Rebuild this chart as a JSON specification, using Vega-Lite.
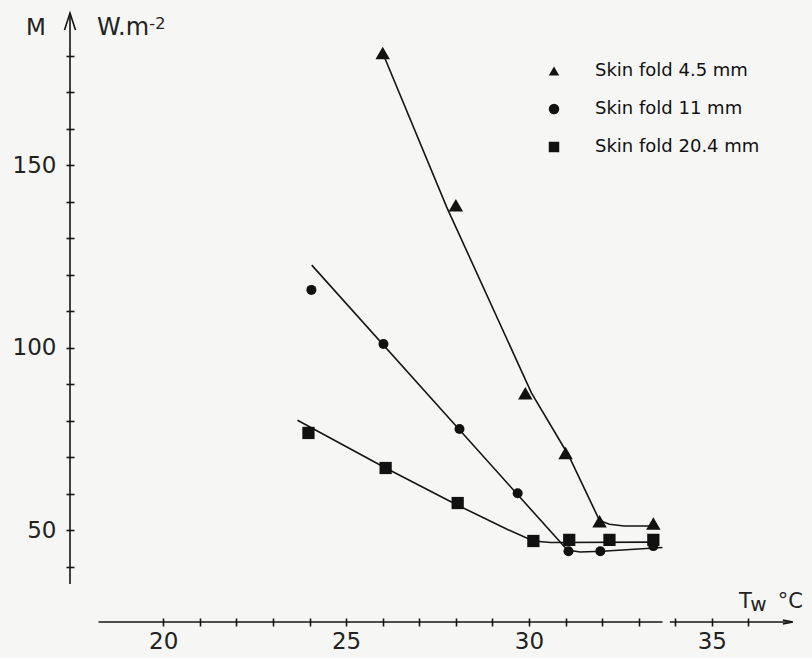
{
  "$schema": "https://vega.github.io/schema/vega-lite/v6.json",
  "width": 730,
  "height": 612,
  "autosize": {"type": "none"},
  "padding": {"left": 70, "top": 10, "right": 12, "bottom": 36},
  "background": "#f6f6f4",
  "config": {
    "view": {"stroke": null},
    "font": "DejaVu Sans",
    "legend": {"labelFont": "DejaVu Sans", "labelLimit": 0}
  },
  "data": {"values": [{}]},
  "datasets": {
    "points": [
      {"series": "Skin fold 4.5 mm", "fold": 4.5, "Tw": 26.0, "M": 180.7},
      {"series": "Skin fold 4.5 mm", "fold": 4.5, "Tw": 28.0, "M": 139.0},
      {"series": "Skin fold 4.5 mm", "fold": 4.5, "Tw": 29.9, "M": 87.5},
      {"series": "Skin fold 4.5 mm", "fold": 4.5, "Tw": 31.0, "M": 71.1},
      {"series": "Skin fold 4.5 mm", "fold": 4.5, "Tw": 31.93, "M": 52.4},
      {"series": "Skin fold 4.5 mm", "fold": 4.5, "Tw": 33.4, "M": 51.8},
      {"series": "Skin fold 11 mm", "fold": 11, "Tw": 24.05, "M": 115.8},
      {"series": "Skin fold 11 mm", "fold": 11, "Tw": 26.02, "M": 101.0},
      {"series": "Skin fold 11 mm", "fold": 11, "Tw": 28.1, "M": 77.7},
      {"series": "Skin fold 11 mm", "fold": 11, "Tw": 29.69, "M": 60.1},
      {"series": "Skin fold 11 mm", "fold": 11, "Tw": 31.08, "M": 44.2},
      {"series": "Skin fold 11 mm", "fold": 11, "Tw": 31.95, "M": 44.2},
      {"series": "Skin fold 11 mm", "fold": 11, "Tw": 33.4, "M": 45.6},
      {"series": "Skin fold 20.4 mm", "fold": 20.4, "Tw": 23.97, "M": 76.6},
      {"series": "Skin fold 20.4 mm", "fold": 20.4, "Tw": 26.08, "M": 67.0},
      {"series": "Skin fold 20.4 mm", "fold": 20.4, "Tw": 28.05, "M": 57.4},
      {"series": "Skin fold 20.4 mm", "fold": 20.4, "Tw": 30.12, "M": 47.0},
      {"series": "Skin fold 20.4 mm", "fold": 20.4, "Tw": 31.1, "M": 47.3},
      {"series": "Skin fold 20.4 mm", "fold": 20.4, "Tw": 32.2, "M": 47.3},
      {"series": "Skin fold 20.4 mm", "fold": 20.4, "Tw": 33.4, "M": 47.3}
    ],
    "curves": [
      {"series": "Skin fold 4.5 mm", "Tw": 26.0, "M": 180.7},
      {"series": "Skin fold 4.5 mm", "Tw": 27.75, "M": 138.5},
      {"series": "Skin fold 4.5 mm", "Tw": 30.07, "M": 87.5},
      {"series": "Skin fold 4.5 mm", "Tw": 31.08, "M": 70.5},
      {"series": "Skin fold 4.5 mm", "Tw": 31.93, "M": 52.6},
      {"series": "Skin fold 4.5 mm", "Tw": 32.2, "M": 51.6},
      {"series": "Skin fold 4.5 mm", "Tw": 32.6, "M": 51.1},
      {"series": "Skin fold 4.5 mm", "Tw": 33.4, "M": 51.1},
      {"series": "Skin fold 11 mm", "Tw": 24.06, "M": 122.6},
      {"series": "Skin fold 11 mm", "Tw": 31.05, "M": 44.5},
      {"series": "Skin fold 11 mm", "Tw": 31.4, "M": 44.0},
      {"series": "Skin fold 11 mm", "Tw": 32.0, "M": 44.2},
      {"series": "Skin fold 11 mm", "Tw": 33.65, "M": 45.2},
      {"series": "Skin fold 20.4 mm", "Tw": 23.67, "M": 80.1},
      {"series": "Skin fold 20.4 mm", "Tw": 26.08, "M": 67.0},
      {"series": "Skin fold 20.4 mm", "Tw": 28.05, "M": 56.8},
      {"series": "Skin fold 20.4 mm", "Tw": 29.4, "M": 50.2},
      {"series": "Skin fold 20.4 mm", "Tw": 30.12, "M": 47.0},
      {"series": "Skin fold 20.4 mm", "Tw": 30.6, "M": 46.6},
      {"series": "Skin fold 20.4 mm", "Tw": 33.4, "M": 46.7}
    ]
  },
  "layer": [
    {
      "data": {"name": "curves"},
      "mark": {"type": "line", "color": "#151515", "strokeWidth": 1.6},
      "encoding": {
        "x": {
          "field": "Tw", "type": "quantitative",
          "scale": {"domain": [17.45, 37.41], "nice": false, "zero": false},
          "axis": {
            "title": null, "domain": false, "grid": false,
            "values": [20,21,22,23,24,25,26,27,28,29,30,31,32,33,34,35,36],
            "labelExpr": "datum.value % 5 === 0 ? datum.label : ''",
            "tickSize": 8, "tickWidth": 1.6, "tickColor": "#151515", "offset": -4,
            "labelFontSize": 23, "labelColor": "#222", "labelPadding": 4,
            "labelFlush": false, "labelOverlap": false
          }
        },
        "y": {
          "field": "M", "type": "quantitative",
          "scale": {"domain": [24.8, 192.5], "nice": false, "zero": false},
          "axis": {
            "title": null, "domain": false, "grid": false,
            "values": [40,50,60,70,80,90,100,110,120,130,140,150,160,170,180],
            "labelExpr": "datum.value % 50 === 0 ? datum.label : ''",
            "tickSize": 8, "tickWidth": 1.6, "tickColor": "#151515", "offset": -4,
            "labelFontSize": 23, "labelColor": "#222", "labelPadding": 10,
            "labelOverlap": false
          }
        },
        "detail": {"field": "series"}
      }
    },
    {
      "data": {"name": "points"},
      "mark": {"type": "point", "filled": true, "color": "#111", "opacity": 1},
      "encoding": {
        "x": {"field": "Tw", "type": "quantitative"},
        "y": {"field": "M", "type": "quantitative"},
        "shape": {
          "field": "series", "type": "nominal",
          "scale": {"domain": ["Skin fold 4.5 mm", "Skin fold 11 mm", "Skin fold 20.4 mm"], "range": ["triangle-up", "circle", "square"]},
          "legend": {"title": null, "orient": "none", "legendX": 475, "legendY": 52, "labelFontSize": 18, "labelColor": "#111", "labelOffset": 32, "rowPadding": 20, "symbolSize": 110, "symbolFillColor": "#111", "symbolStrokeColor": "#111"}
        },
        "size": {
          "field": "fold", "type": "quantitative",
          "scale": {"type": "linear", "domain": [4.5, 11, 20.4], "range": [210, 100, 150], "zero": false},
          "legend": null
        }
      }
    },
    {
      "mark": {"type": "rule", "color": "#151515", "strokeWidth": 1.6},
      "encoding": {
        "x": {"datum": 17.45, "type": "quantitative"},
        "y": {"datum": 35.2, "type": "quantitative"},
        "y2": {"datum": 191.65}
      }
    },
    {
      "mark": {"type": "rule", "color": "#151515", "strokeWidth": 1.6},
      "encoding": {
        "x": {"datum": 18.23, "type": "quantitative"},
        "x2": {"datum": 33.65},
        "y": {"datum": 24.8, "type": "quantitative"}
      }
    },
    {
      "mark": {"type": "rule", "color": "#151515", "strokeWidth": 1.6},
      "encoding": {
        "x": {"datum": 33.85, "type": "quantitative"},
        "x2": {"datum": 37.15},
        "y": {"datum": 24.8, "type": "quantitative"}
      }
    },
    {
      "mark": {"type": "point", "shape": "M-2,-0.4L0,0L-2,0.4", "size": 100, "filled": false, "stroke": "#151515", "strokeWidth": 1.6, "opacity": 1},
      "encoding": {
        "x": {"datum": 37.215, "type": "quantitative"},
        "y": {"datum": 24.8, "type": "quantitative"}
      }
    },
    {
      "mark": {"type": "point", "shape": "M-1.1,3.4L0,0L1.1,3.4", "size": 100, "filled": false, "stroke": "#151515", "strokeWidth": 1.6, "opacity": 1},
      "encoding": {
        "x": {"datum": 17.45, "type": "quantitative"},
        "y": {"datum": 191.65, "type": "quantitative"}
      }
    },
    {
      "mark": {"type": "text", "text": "M", "fontSize": 23, "align": "center", "baseline": "alphabetic", "color": "#222"},
      "encoding": {
        "x": {"datum": 16.52, "type": "quantitative"},
        "y": {"datum": 185.6, "type": "quantitative"}
      }
    },
    {
      "mark": {"type": "text", "text": "W.m", "fontSize": 24, "align": "left", "baseline": "alphabetic", "color": "#222"},
      "encoding": {
        "x": {"datum": 18.19, "type": "quantitative"},
        "y": {"datum": 185.6, "type": "quantitative"}
      }
    },
    {
      "mark": {"type": "text", "text": "-2", "fontSize": 16, "align": "left", "baseline": "alphabetic", "color": "#222"},
      "encoding": {
        "x": {"datum": 19.62, "type": "quantitative"},
        "y": {"datum": 187.3, "type": "quantitative"}
      }
    },
    {
      "mark": {"type": "text", "text": "T", "fontSize": 21, "align": "left", "baseline": "alphabetic", "color": "#222"},
      "encoding": {
        "x": {"datum": 35.74, "type": "quantitative"},
        "y": {"datum": 28.64, "type": "quantitative"}
      }
    },
    {
      "mark": {"type": "text", "text": "w", "fontSize": 20, "align": "left", "baseline": "alphabetic", "color": "#222"},
      "encoding": {
        "x": {"datum": 36.05, "type": "quantitative"},
        "y": {"datum": 27.9, "type": "quantitative"}
      }
    },
    {
      "mark": {"type": "text", "text": "°C", "fontSize": 21, "align": "left", "baseline": "alphabetic", "color": "#222"},
      "encoding": {
        "x": {"datum": 36.8, "type": "quantitative"},
        "y": {"datum": 28.64, "type": "quantitative"}
      }
    }
  ]
}
